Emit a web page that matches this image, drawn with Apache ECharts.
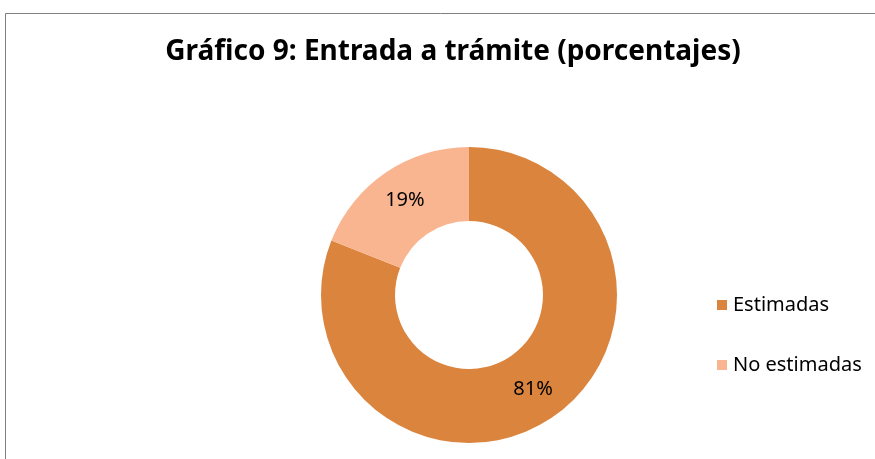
<!DOCTYPE html>
<html>
<head>
<meta charset="utf-8">
<script src="https://cdn.jsdelivr.net/npm/echarts@6/dist/echarts.min.js"></script>
<style>
  html, body { margin: 0; padding: 0; background: #fff; }
  #chart { width: 875px; height: 459px; }
</style>
</head>
<body>
<div id="chart"></div>
<script>
// Data
const categories = ['Estimadas', 'No estimadas'];
const values = [81, 19];
const colors = ['#DB843D', '#F9B590'];

const chart = echarts.init(document.getElementById('chart'));

chart.setOption({
    animation: false,
    color: colors,
    title: {
        text: 'Gráfico 9: Entrada a trámite (porcentajes)',
        left: 448, top: 33, textAlign: 'center',
        textStyle: { fontFamily: 'Noto Sans', fontWeight: 'bold', fontSize: 28, color: '#000' }
    },
    legend: {
        orient: 'vertical',
        left: 712, top: 290,
        itemWidth: 10, itemHeight: 10, itemGap: 40,
        icon: 'rect',
        data: categories,
        textStyle: { fontFamily: 'Noto Sans', fontSize: 20, color: '#000', padding: [0, 0, 0, 1] }
    },
    graphic: [{
        type: 'rect',
        shape: { x: 5.5, y: 13.5, width: 880, height: 460 },
        style: { fill: 'none', stroke: '#7f7f7f', lineWidth: 1 },
        silent: true
    }],
    series: [{
        type: 'pie',
        center: [469, 295],
        radius: [74, 148],
        startAngle: 90,
        clockwise: true,
        label: {
            show: true, position: 'inside', formatter: '{d}%',
            fontFamily: 'Noto Sans', fontSize: 20, color: '#000'
        },
        labelLine: { show: false },
        emphasis: { disabled: true },
        data: categories.map((c, i) => ({ name: c, value: values[i] }))
    }]
});
</script>
</body>
</html>
